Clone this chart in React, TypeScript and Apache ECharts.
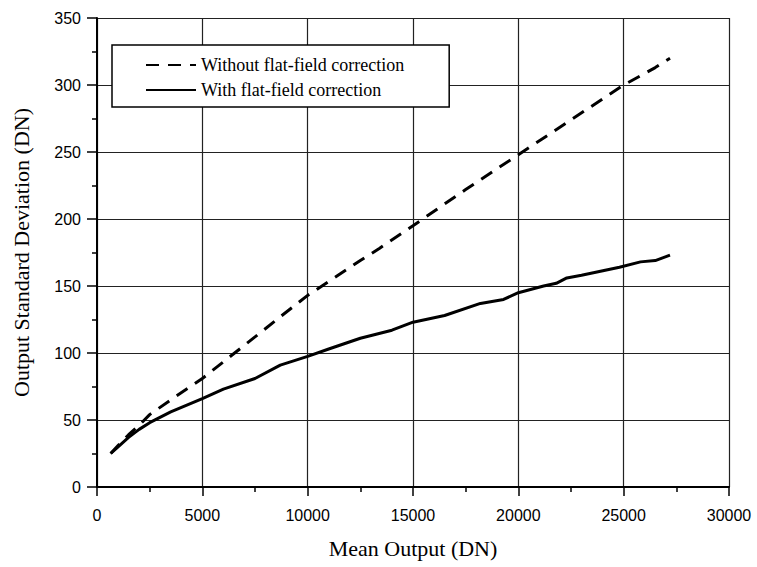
import React, { useEffect, useRef } from "react";
import * as echarts from "echarts";

const withoutX = [650, 1000, 1500, 2000, 2500, 3500, 5000, 7500, 8700, 10000, 12500, 13400, 15000, 17500, 20000, 22500, 25000, 26500, 27200];
const withoutY = [25, 31, 39, 46, 54, 65, 81, 112, 127, 143, 169, 178, 195, 222, 248, 274, 300, 313, 320];

const withX = [650, 1000, 1500, 2000, 2500, 3500, 5000, 6000, 7500, 8700, 10000, 11000, 12500, 14000, 15000, 16500, 18200, 19300, 20000, 21200, 21800, 22300, 23000, 23900, 24800, 25800, 26500, 27200];
const withY = [25, 30, 37, 43, 48, 56, 66, 73, 81, 91, 97.5, 103, 111, 117, 123, 128, 137, 140, 145, 150, 152, 156, 158, 161, 164, 168, 169, 173];

const seriesNames = ["Without flat-field correction", "With flat-field correction"];
const xTicks = { min: 0, max: 30000, interval: 5000 };
const yTicks = { min: 0, max: 350, interval: 50 };

const pair = (xs: number[], ys: number[]) => xs.map((x, i) => [x, ys[i]]);

export default function App() {
  const ref = useRef<HTMLDivElement>(null);
  useEffect(() => {
    if (!ref.current) return;
    const chart = echarts.init(ref.current, null, { renderer: "svg" });
    const sans = "'Liberation Sans', Arial, sans-serif";
    const serif = "'Liberation Serif', 'Times New Roman', serif";
    chart.setOption({
      animation: false,
      backgroundColor: "#fff",
      grid: { left: 97, right: 28, top: 18, bottom: 80, containLabel: false },
      legend: {
        orient: "vertical",
        left: 112,
        top: 45,
        padding: [11, 45, 8, 33],
        itemGap: 7,
        itemWidth: 50,
        itemHeight: 14,
        backgroundColor: "#fff",
        borderColor: "#000",
        borderWidth: 1.5,
        borderRadius: 0,
        data: seriesNames,
        itemStyle: { opacity: 0 },
        textStyle: { fontFamily: serif, fontSize: 18, color: "#000" },
      },
      xAxis: {
        type: "value",
        min: xTicks.min,
        max: xTicks.max,
        interval: xTicks.interval,
        name: "Mean Output (DN)",
        nameLocation: "middle",
        nameGap: 50,
        nameTextStyle: { fontFamily: serif, fontSize: 22, color: "#000" },
        axisLine: { show: true, lineStyle: { color: "#000", width: 2 } },
        axisTick: { show: true, length: 9, inside: false, lineStyle: { color: "#000", width: 1.5 } },
        minorTick: { show: true, splitNumber: 2, length: 5, lineStyle: { color: "#000", width: 1.5 } },
        axisLabel: { fontFamily: sans, fontSize: 16, color: "#000", margin: 20, formatter: (v: number) => String(v) },
        splitLine: { show: true, lineStyle: { color: "#222", width: 1.2 } },
      },
      yAxis: {
        type: "value",
        min: yTicks.min,
        max: yTicks.max,
        interval: yTicks.interval,
        name: "Output Standard Deviation (DN)",
        nameLocation: "middle",
        nameGap: 65,
        nameTextStyle: { fontFamily: serif, fontSize: 22, color: "#000" },
        axisLine: { show: true, lineStyle: { color: "#000", width: 2 } },
        axisTick: { show: true, length: 10, inside: false, lineStyle: { color: "#000", width: 1.5 } },
        minorTick: { show: true, splitNumber: 2, length: 5, lineStyle: { color: "#000", width: 1.5 } },
        axisLabel: { fontFamily: sans, fontSize: 16, color: "#000", margin: 16, formatter: (v: number) => String(v) },
        splitLine: { show: true, lineStyle: { color: "#222", width: 1.2 } },
      },
      series: [
        {
          name: seriesNames[0],
          type: "line",
          data: pair(withoutX, withoutY),
          showSymbol: false,
          symbol: "none",
          lineStyle: { color: "#000", width: 3, type: [13, 9] },
          itemStyle: { color: "#000" },
          z: 3,
        },
        {
          name: seriesNames[1],
          type: "line",
          data: pair(withX, withY),
          showSymbol: false,
          symbol: "none",
          lineStyle: { color: "#000", width: 3 },
          itemStyle: { color: "#000" },
          z: 3,
        },
      ],
    });
    return () => chart.dispose();
  }, []);
  return <div ref={ref} style={{ width: 757, height: 567, position: "absolute", left: 0, top: 0 }} />;
}
